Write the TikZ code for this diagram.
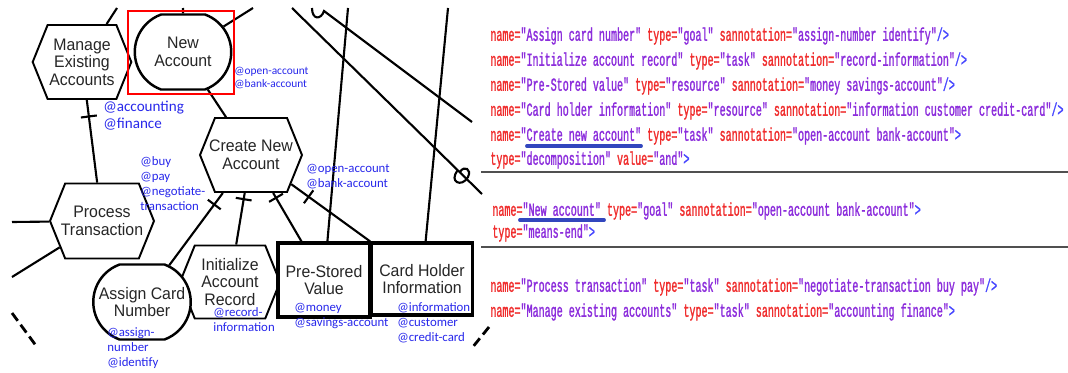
\documentclass[tikz,border=0pt]{standalone}
\usepackage{fontspec}
\usetikzlibrary{shapes.symbols,shapes.misc}

\newfontfamily\labelfont[FakeStretch=0.95]{Liberation Sans}
\newfontfamily\notefont{Carlito}
\newfontfamily\codefont[FakeStretch=0.545,FakeBold=1.2]{Liberation Mono}

\definecolor{attrred}{RGB}{240,45,45}
\definecolor{valpurple}{RGB}{140,45,220}
\definecolor{tagblue}{RGB}{70,70,255}
\definecolor{noteblue}{RGB}{40,40,235}
\definecolor{markblue}{RGB}{50,70,190}
\definecolor{rulegray}{RGB}{80,80,80}

% attribute="value" pairs of the xml listing
\newcommand\attr[2]{\textcolor{attrred}{#1=}\textcolor{valpurple}{"#2"}}
\newcommand\tagend[1]{\textcolor{tagblue}{#1}}

\begin{document}
\begin{tikzpicture}[x=0.02cm, y=-0.02cm,
    taskhex/.style={shape=signal, signal to=west and east, signal pointer angle=136,
      draw, line width=1.1pt, fill=white, align=center, text=black!85, inner sep=1pt,
      font=\labelfont\fontsize{9.5}{10}\selectfont},
    goalbox/.style={rounded rectangle, rounded rectangle arc length=140,
      draw, line width=1.4pt, fill=white, align=center, text=black!85, inner sep=1pt,
      font=\labelfont\fontsize{9.5}{10}\selectfont},
    resbox/.style={rectangle, draw, line width=1.8pt, fill=white, align=center,
      text=black!85, inner sep=1pt, font=\labelfont\fontsize{9.5}{10}\selectfont},
    link/.style={line width=1.2pt},
    barmark/.style={pos=#1, sloped, draw, line width=1.2pt, inner sep=0pt,
      minimum width=0pt, minimum height=0.32cm},
    note/.style={anchor=north west, inner sep=0pt, align=left, text=noteblue,
      font=\notefont\fontsize{7.3}{8.5}\selectfont},
    codeline/.style={anchor=west, inner sep=0pt,
      font=\codefont\fontsize{10.5}{11}\selectfont},
  ]
  \fill[white] (0,0) rectangle (1068,372);
  \useasboundingbox (0,0) rectangle (1068,372);

  % goal model
  \node[taskhex, minimum width=1.9cm, minimum height=1.48cm] (manage) at (82,62) {Manage\\Existing\\Accounts};
  \node[goalbox, minimum width=2cm, minimum height=1.5cm] (newacc) at (183,52) {New\\Account};
  \node[taskhex, inner xsep=-3.4pt, minimum width=2.04cm, minimum height=1.48cm] (create) at (251,155) {Create New\\Account};
  \node[taskhex, inner xsep=-2.6pt, minimum width=2.08cm, minimum height=1.5cm] (process) at (102,221) {Process\\Transaction};
  \node[taskhex, minimum width=2cm, minimum height=1.46cm] (init) at (230,282) {Initialize\\Account\\Record};
  \node[goalbox, minimum width=2.02cm, minimum height=1.5cm] (assign) at (142,302) {Assign Card\\Number};
  \node[resbox, minimum width=1.84cm, minimum height=1.48cm] (prestored) at (324,280) {Pre-Stored\\Value};
  \node[resbox, minimum width=2.02cm, minimum height=1.44cm] (cardholder) at (422,279) {Card Holder\\Information};

  % links leaving the cut
  \coordinate (mtop) at (117,8);
  \coordinate (ntop) at (183,8);
  \coordinate (nright) at (253,8);
  \coordinate (pleft) at (12,222);
  \coordinate (plow) at (12,277);
  \coordinate (ptop) at (348,8);
  \coordinate (ctop) at (448,8);

  \draw[link] (manage) -- (mtop);
  \draw[link] (newacc) -- (ntop);
  \draw[link] (newacc) -- (nright);
  \draw[link] (process) -- (pleft);
  \draw[link] (process) -- (plow);
  \draw[link] (prestored) -- (ptop);
  \draw[link] (cardholder) -- (ctop);

  \draw[link] (newacc) -- (create);
  \draw[link] (manage) -- (process) node[barmark=0.2] {};
  \draw[link] (assign) -- (create) node[barmark=0.84] {};
  \draw[link] (init) -- (create) node[barmark=0.88] {};
  \draw[link] (prestored) -- (create) node[barmark=0.9] {};
  \draw[link] (cardholder) -- (create) node[barmark=0.78] {};

  \draw[link] (292,8) -- (482,194);
  \draw[link] (458,170) .. controls (448,182) and (462,188) .. (468,177) .. controls (472,169) and (464,165) .. (460,172);
  \draw[link] (312,8) .. controls (312,20) and (321,20) .. (324,11) -- (472,122);
  \draw[link, line width=1.6pt, dash pattern=on 5.5pt off 2.8pt] (12,313) -- (37,347);
  \draw[link, line width=1.6pt, dash pattern=on 5.5pt off 2.8pt] (489,327) -- (472,348);

  \draw[red, line width=1.4pt] (128,11) rectangle (234,94);

  % semantic annotations
  \node[note, font=\notefont\fontsize{6.5}{7.4}\selectfont] (nnew) at (234,67) {@open-account\\@bank-account};
  \node[note, font=\notefont\fontsize{8.6}{9.6}\selectfont] (nmanage) at (103,101) {@accounting\\@finance};
  \node[note] (nprocess) at (140,156) {@buy\\@pay\\@negotiate-\\transaction};
  \node[note] (ncreate) at (306,164) {@open-account\\@bank-account};
  \node[note] (nassign) at (107,327) {@assign-\\number\\@identify};
  \node[note] (ninit) at (213,307) {@record-\\information};
  \node[note] (nprestored) at (294,303) {@money\\@savings-account};
  \node[note] (ncardholder) at (397,302) {@information\\@customer\\@credit-card};

  % xml listing
  \node[codeline] (l1) at (490,36) {\attr{name}{Assign card number} \attr{type}{goal} \attr{sannotation}{assign-number identify}\tagend{/>}};
  \node[codeline] (l2) at (490,61) {\attr{name}{Initialize account record} \attr{type}{task} \attr{sannotation}{record-information}\tagend{/>}};
  \node[codeline] (l3) at (490,86) {\attr{name}{Pre-Stored value} \attr{type}{resource} \attr{sannotation}{money savings-account}\tagend{/>}};
  \node[codeline] (l4) at (490,111) {\attr{name}{Card holder information} \attr{type}{resource} \attr{sannotation}{information customer credit-card}\tagend{/>}};
  \node[codeline] (l5) at (490,136) {\attr{name}{Create new account} \attr{type}{task} \attr{sannotation}{open-account bank-account}\tagend{>}};
  \node[codeline] (l6) at (490,160) {\attr{type}{decomposition} \attr{value}{and}\tagend{>}};
  \node[codeline] (l7) at (492,211) {\attr{name}{New account} \attr{type}{goal} \attr{sannotation}{open-account bank-account}\tagend{>}};
  \node[codeline] (l8) at (492,233) {\attr{type}{means-end}\tagend{>}};
  \node[codeline] (l9) at (490,287) {\attr{name}{Process transaction} \attr{type}{task} \attr{sannotation}{negotiate-transaction buy pay}\tagend{/>}};
  \node[codeline] (l10) at (490,312) {\attr{name}{Manage existing accounts} \attr{type}{task} \attr{sannotation}{accounting finance}\tagend{>}};

  \draw[markblue, line width=2.2pt, line cap=round] (527,146) -- (641,146);
  \draw[markblue, line width=2.2pt, line cap=round] (520,220) -- (604,220);

  \draw[rulegray, line width=1.4pt] (481,172) -- (1068,172);
  \draw[rulegray, line width=1.4pt] (481,247) -- (1068,247);
\end{tikzpicture}
\end{document}
